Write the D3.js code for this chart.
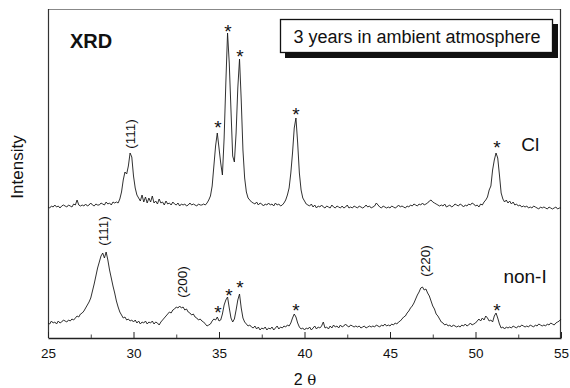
<!DOCTYPE html>
<html><head><meta charset="utf-8">
<script src="https://cdn.jsdelivr.net/npm/d3@7"></script>
<style>
html,body{margin:0;padding:0;background:#fff;}
svg{display:block;font-family:"Liberation Sans",Arial,Helvetica,sans-serif;}
</style></head>
<body>
<svg id="chart" width="570" height="388"></svg>
<script>
// 2θ sampling grid (degrees)
const twoThetaStart = 25, twoThetaStep = 0.1;
// Intensity (a.u.), Cl sample, one value per 0.1° from 25.0 to 55.0
const intensityCl = [
131,130,132,131,133,131,132,130,132,133,
132,131,133,132,131,134,133,138,133,132,
133,132,134,132,133,135,133,132,134,133,
133,135,134,133,136,134,135,133,136,135,
136,135,139,146,158,166,164,172,185,181,
162,150,143,140,137,143,136,141,135,140,
136,142,135,137,134,139,135,136,133,137,
134,135,133,136,134,133,135,132,134,133,
134,132,133,135,133,134,133,132,134,133,
133,134,133,135,138,142,152,172,192,205,
190,175,163,200,255,305,275,228,182,176,
205,250,279,238,188,160,146,140,138,136,
135,134,136,133,135,134,132,134,133,135,
133,134,132,135,133,134,132,133,135,138,
143,150,165,185,210,220,195,165,148,140,
137,134,133,132,134,131,133,130,132,131,
133,131,130,132,131,130,133,131,130,132,
131,130,132,130,131,133,130,131,130,132,
131,130,132,131,130,131,133,131,132,130,
131,132,135,133,131,130,132,131,130,131,
130,132,131,130,131,133,131,132,131,130,
132,131,133,132,134,133,132,134,133,135,
133,134,135,137,138,136,135,134,133,132,
133,132,134,131,132,133,131,132,134,133,
132,134,133,131,133,132,134,133,135,134,
132,133,131,134,133,136,138,141,148,152,
168,178,185,180,163,145,139,136,138,135,
137,134,136,133,134,132,133,131,132,131,
132,130,131,130,132,131,130,129,131,130,
131,130,129,131,130,129,130,131,129,130,
130];
// Intensity (a.u.), non-I sample
const intensityNonI = [
15,14,17,15,16,14,17,15,16,18,
17,16,18,17,19,18,20,22,21,24,
25,27,30,33,36,40,47,54,62,70,
76,82,85,80,86,78,68,60,52,45,
37,31,26,23,20,21,18,19,17,18,
16,18,15,17,14,16,15,17,14,16,
15,17,14,16,15,13,16,18,20,22,
24,26,25,28,29,31,30,32,30,31,
28,29,26,25,23,24,21,20,18,19,
17,16,14,12,13,14,17,19,18,21,
17,18,24,33,38,41,30,20,16,19,
28,38,44,30,20,16,14,12,13,11,
10,12,9,11,8,10,9,11,8,10,
9,11,8,10,12,9,11,10,12,11,
13,12,15,20,24,21,15,11,9,10,
8,10,9,11,8,10,12,9,11,10,
12,16,10,11,9,12,10,13,11,12,
10,13,11,12,14,12,11,13,12,11,
12,11,12,10,11,12,10,11,12,11,
12,11,13,12,11,13,12,14,12,13,
12,14,13,15,14,16,17,19,21,22,
25,27,30,32,35,39,43,46,50,51,
48,49,45,42,37,32,29,24,22,19,
16,15,13,14,12,13,11,13,12,11,
12,11,13,12,14,12,13,15,13,14,
15,17,19,17,20,18,22,20,17,18,
16,22,25,20,14,10,11,9,11,10,
11,10,12,11,10,12,11,13,12,11,
12,11,13,12,11,13,12,14,13,12,
13,12,14,13,15,14,13,15,16,17,
19];
// axis
const majorTicks = [25,30,35,40,45,50,55];
const minorTicks = [27.5,32.5,37.5,42.5,47.5,52.5];
// annotations: [2θ, intensity at label centre]
const starsCl = [[34.94,215],[35.53,311],[36.23,286],[39.5,228],[51.26,195]];
const starsNonI = [[34.94,30],[35.58,47],[36.23,55],[39.5,32],[51.26,32]];
const millerLabels = [["(111)",29.85,204],["(111)",28.27,107],["(200)",32.84,56],["(220)",47.05,77]];
const seriesNames = ["Cl","non-I"];
const seriesLabelPos = [[53.2,187],[52.9,55]];

const svg = d3.select("#chart");
const x = d3.scaleLinear().domain([25,55]).range([48,561]);
const y = d3.scaleLinear().domain([0,329]).range([338,9]);

const toPoints = arr => arr.map((v,i)=>[twoThetaStart + i*twoThetaStep, v]);
const line = d3.line().x(d=>x(d[0])).y(d=>y(d[1]));

// frame
svg.append("line").attr("x1",48).attr("x2",561).attr("y1",9.5).attr("y2",9.5).attr("stroke","#888").attr("stroke-width",1);
svg.append("line").attr("x1",48.5).attr("x2",48.5).attr("y1",9).attr("y2",338).attr("stroke","#333").attr("stroke-width",1.2);
svg.append("line").attr("x1",560.5).attr("x2",560.5).attr("y1",9).attr("y2",338).attr("stroke","#333").attr("stroke-width",1.2);

// axes
const ax = svg.append("g").attr("transform","translate(0,338)")
  .call(d3.axisBottom(x).tickValues(majorTicks).tickFormat(d3.format("d")).tickSizeInner(-6).tickSizeOuter(0).tickPadding(10));
ax.select(".domain").attr("stroke","#222").attr("stroke-width",1.3);
ax.selectAll(".tick line").attr("stroke","#222");
ax.selectAll("text").attr("font-size",13.5).attr("font-family","Liberation Sans, Arial, sans-serif").attr("fill","#111");
const axm = svg.append("g").attr("transform","translate(0,338)")
  .call(d3.axisBottom(x).tickValues(minorTicks).tickFormat("").tickSizeInner(-3.5).tickSizeOuter(0));
axm.select(".domain").remove();
axm.selectAll(".tick line").attr("stroke","#444");

// curves
[intensityCl, intensityNonI].forEach(arr=>{
  svg.append("path").datum(toPoints(arr)).attr("d",line)
    .attr("fill","none").attr("stroke","#1a1a1a").attr("stroke-width",0.9).attr("stroke-linejoin","round");
});

// asterisks
starsCl.concat(starsNonI).forEach(d=>{
  svg.append("text").attr("x",x(d[0])).attr("y",y(d[1])+11).attr("text-anchor","middle")
    .attr("font-size",19).attr("fill","#111").text("*");
});
// Miller indices
millerLabels.forEach(d=>{
  svg.append("text").attr("transform",`translate(${x(d[1])},${y(d[2])}) rotate(-90)`)
    .attr("text-anchor","middle").attr("dominant-baseline","central")
    .attr("font-size",13.5).attr("fill","#111").text(d[0]);
});
// series labels
seriesNames.forEach((n,i)=>{
  svg.append("text").attr("x",x(seriesLabelPos[i][0])).attr("y",y(seriesLabelPos[i][1]))
    .attr("text-anchor","middle").attr("font-size",19).attr("fill","#111").text(n);
});

// XRD
svg.append("text").attr("x",70).attr("y",48).attr("font-size",20).attr("font-weight","bold").attr("fill","#111").text("XRD");

// boxed note with shadow
svg.append("rect").attr("x",285).attr("y",24).attr("width",273).attr("height",34).attr("fill","#111");
svg.append("rect").attr("x",280.5).attr("y",19.5).attr("width",272).attr("height",33).attr("fill","#fff").attr("stroke","#111").attr("stroke-width",1.3);
svg.append("text").attr("x",417).attr("y",43).attr("text-anchor","middle").attr("font-size",18).attr("fill","#111").text("3 years in ambient atmosphere");

// axis titles
const xt = svg.append("text").attr("x",305).attr("y",385).attr("text-anchor","middle").attr("font-size",16).attr("fill","#111");
xt.append("tspan").text("2 ");
xt.append("tspan").attr("font-family","DejaVu Serif, Liberation Serif, serif").attr("font-size",15).text("θ");
svg.append("text").attr("transform","translate(23,167) rotate(-90)").attr("text-anchor","middle")
  .attr("font-size",17).attr("fill","#111").text("Intensity");
</script>
</body></html>
